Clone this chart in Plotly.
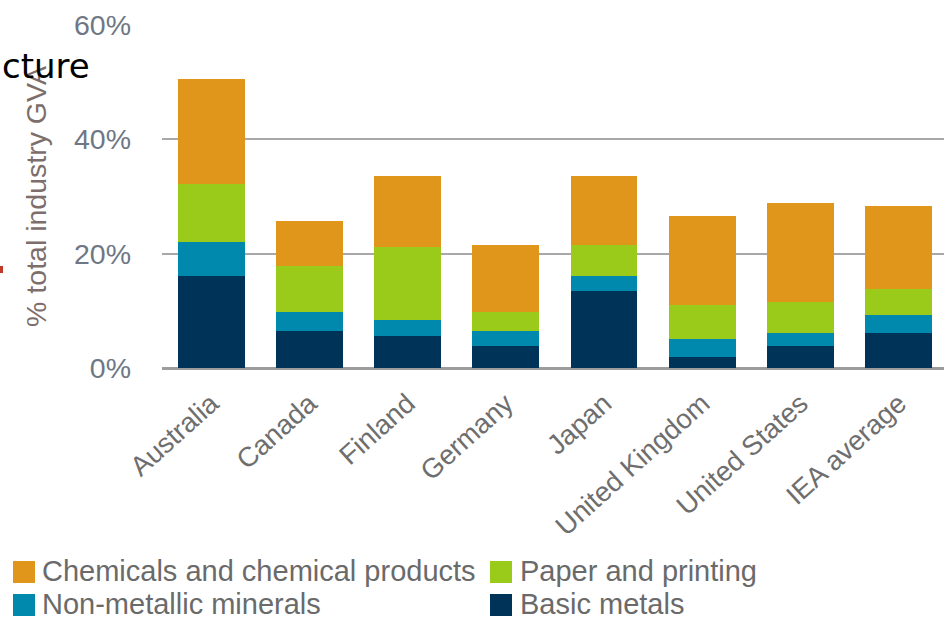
import plotly.graph_objects as go

categories = ["Australia", "Canada", "Finland", "Germany", "Japan",
              "United Kingdom", "United States", "IEA average"]
basic_metals = [16.1, 6.5, 5.6, 3.9, 13.4, 1.9, 3.8, 6.1]
non_metallic = [6.0, 3.3, 2.8, 2.6, 2.7, 3.2, 2.3, 3.2]
paper_printing = [10.0, 8.1, 12.8, 3.3, 5.5, 6.0, 5.4, 4.6]
chemicals = [18.4, 7.8, 12.3, 11.8, 12.0, 15.5, 17.4, 14.5]
y_ticks = [0, 20, 40, 60]
y_tick_labels = ["0%", "20%", "40%", "60%"]
y_title = "% total industry GVA"

series = [
    ("Basic metals", basic_metals, "#003358"),
    ("Non-metallic minerals", non_metallic, "#0089AC"),
    ("Paper and printing", paper_printing, "#9BCB1A"),
    ("Chemicals and chemical products", chemicals, "#E0961A"),
]

W, H = 944, 620
L, T, B = 162, 25, 252
PW, PH = W - L, H - T - B

def px(x):
    return (x - L) / PW

def py(y):
    return (H - B - y) / PH

FONT = "Liberation Sans, Arial, sans-serif"

fig = go.Figure()
for name, vals, col in series:
    fig.add_trace(go.Bar(x=categories, y=vals, name=name, marker_color=col,
                         marker_line_width=0, showlegend=False))

fig.update_layout(
    width=W, height=H, barmode="stack", bargap=0.32,
    margin=dict(l=L, r=0, t=T, b=B),
    paper_bgcolor="white", plot_bgcolor="white",
    font=dict(family=FONT),
)
fig.update_xaxes(range=[-0.5, 7.46], tickangle=-42, showgrid=False,
                 tickfont=dict(size=27.5, color="#6e6e6e"), ticks="",
                 ticklabelstandoff=13, automargin=False)
fig.update_yaxes(range=[0, 60], tickvals=y_ticks, ticktext=y_tick_labels,
                 showgrid=True, gridcolor="#a8a8a8", gridwidth=2,
                 zeroline=True, zerolinecolor="#9c9c9c", zerolinewidth=2.5,
                 tickfont=dict(size=28.5, color="#6f7784"), ticklabelstandoff=30,
                 title=dict(text=y_title, font=dict(size=28.5, color="#7d6e6c"), standoff=18),
                 automargin=False)

# legend (manual, two rows x two columns)
legend_items = [
    ("Chemicals and chemical products", "#E0961A", 13, 40, 571),
    ("Paper and printing", "#9BCB1A", 490, 518, 571),
    ("Non-metallic minerals", "#0089AC", 13, 40, 604),
    ("Basic metals", "#003358", 490, 518, 604),
]
for text, col, sx, tx, cy in legend_items:
    fig.add_shape(type="rect", xref="paper", yref="paper",
                  x0=px(sx), x1=px(sx + 22), y0=py(cy - 10), y1=py(cy + 12),
                  fillcolor=col, line_width=0)
    fig.add_annotation(text=text, xref="paper", yref="paper", x=px(tx), y=py(cy),
                       xanchor="left", yanchor="middle", showarrow=False,
                       font=dict(size=29, color="#6a6a6a", family=FONT))

# overlapping slide text fragment
fig.add_annotation(text="cture", xref="paper", yref="paper", x=px(92), y=py(66),
                   xanchor="right", yanchor="middle", showarrow=False,
                   font=dict(size=34, color="black", family="DejaVu Sans"))
fig.add_shape(type="rect", xref="paper", yref="paper",
              x0=px(0), x1=px(3), y0=py(273), y1=py(266),
              fillcolor="#c0392b", line_width=0)

fig.write_html("out.html")
